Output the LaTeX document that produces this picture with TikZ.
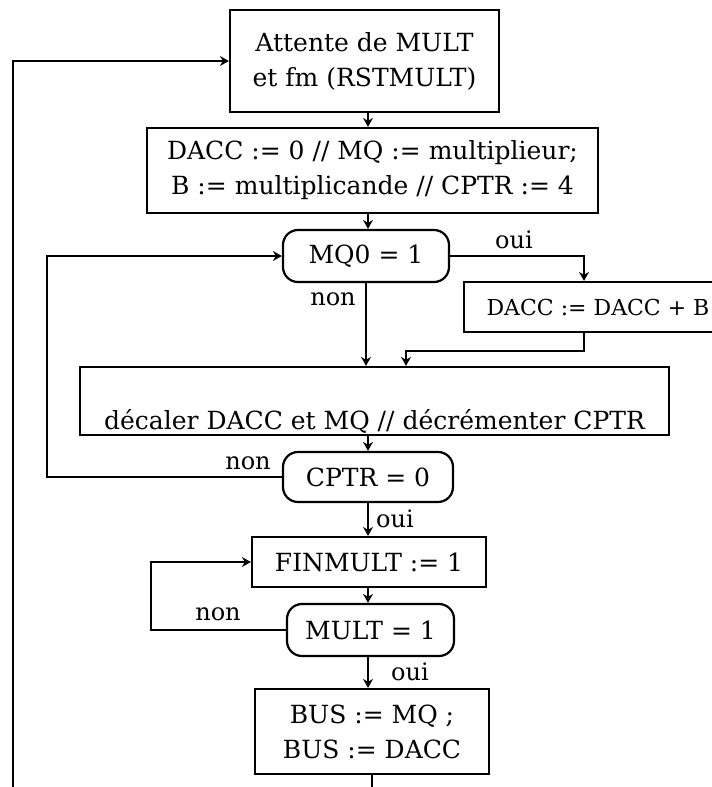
\documentclass[tikz,border=0pt]{standalone}
\usepackage{fontspec}
\setmainfont{DejaVu Serif}
\usetikzlibrary{arrows.meta}
\begin{document}
\begin{tikzpicture}[x=1pt, y=-1pt, >={Stealth[length=9pt,width=10pt,inset=3pt]}, line width=2.2pt,
        etape/.style={draw, rectangle, inner sep=0pt, align=center, font=\fontsize{25}{35}\selectfont},
        condition/.style={etape, rounded corners=15pt},
        rep/.style={inner sep=1pt, font=\fontsize{24}{25}\selectfont}]
        \useasboundingbox (0,0) rectangle (712,787);
        \coordinate (axe) at (368,0);
        \coordinate (gauche) at (13,61);
        \node [etape, minimum width=269pt, minimum height=102pt] (attente) at (364.5,61) {Attente de MULT\\et fm (RSTMULT)};
        \node [etape, minimum width=451pt, minimum height=85pt] (init) at (372.5,170.5) {DACC := 0 // MQ := multiplieur;\\B := multiplicande // CPTR := 4};
        \node [condition, minimum width=166pt, minimum height=52pt] (mq0) at (366,256) {MQ0 = 1};
        \node [etape, minimum width=268pt, minimum height=50pt, font=\fontsize{22}{30}\selectfont] (dacc) at (598,307) {DACC := DACC + B};
        \node [etape, minimum width=589pt, minimum height=68pt, text height=59pt, text depth=2.8pt] (decal) at (374.5,401) {décaler DACC et MQ // décrémenter CPTR};
        \node [condition, minimum width=170pt, minimum height=50pt] (cptr) at (368,477) {CPTR = 0};
        \node [etape, minimum width=234pt, minimum height=50pt] (finmult) at (369,562) {FINMULT := 1};
        \node [condition, minimum width=167pt, minimum height=52pt] (mult) at (370.5,630) {MULT = 1};
        \node [etape, minimum width=234pt, minimum height=85pt] (bus) at (372,731.5) {BUS := MQ ;\\BUS := DACC};
        \draw [->] (attente.south -| axe)--(init.north -| axe);
        \draw [->] (init.south -| axe)--(mq0.north -| axe);
        \draw [->] (mq0.east) -| ([xshift=-14pt]dacc.north);
        \node [rep] (oui1) at (514,240) {oui};
        \draw [->] (mq0.south)--(mq0.south |- decal.north);
        \node [rep] (non1) at (333,299) {non};
        \draw [->] ([xshift=-14pt]dacc.south)--++(0,18) -| ([xshift=31.5pt]decal.north);
        \draw [->] (decal.south -| axe)--(cptr.north -| axe);
        \draw [->] (cptr.west)--++(-235,0) |- (mq0.west);
        \node [rep] (non2) at (248,463) {non};
        \draw [->] (cptr.south -| axe)--(finmult.north -| axe);
        \node [rep, anchor=west] (oui2) at (374,519) {oui};
        \draw [->] (finmult.south -| axe)--(mult.north -| axe);
        \draw [->] (mult.west)--++(-135,0) |- (finmult.west);
        \node [rep] (non3) at (218,614) {non};
        \draw [->] (mult.south -| axe)--(bus.north -| axe);
        \node [rep] (oui3) at (410,672) {oui};
        \draw [->] (bus.south)--++(0,30) -| (gauche)--(attente.west);
\end{tikzpicture}
\end{document}
